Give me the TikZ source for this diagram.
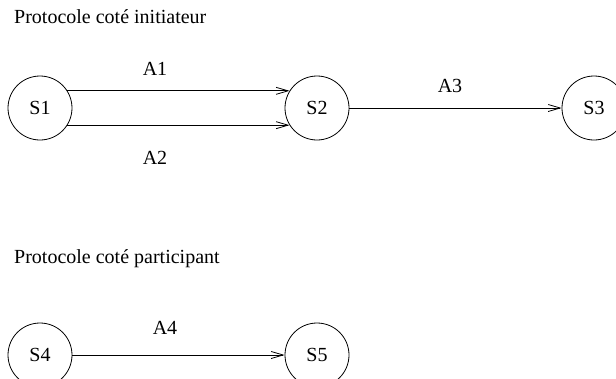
\documentclass[tikz,border=0pt]{standalone}
\usepackage{fontspec}
\setmainfont{Liberation Serif}
\usetikzlibrary{arrows.meta}
\begin{document}
\begin{tikzpicture}[x=1pt,y=-1pt,
  state/.style={draw,circle,minimum size=64pt,inner sep=0pt,line width=0.8pt},
  lbl/.style={inner sep=0pt},
  trans/.style={line width=0.8pt,-{Straight Barb[length=12pt,width=7pt,line width=0.8pt]}},
  font=\fontsize{20}{24}\selectfont]
\useasboundingbox (0,0) rectangle (616,378);
\node[lbl,anchor=west] (t1) at (14,17) {Protocole coté initiateur};
\node[lbl,anchor=west] (t2) at (14,259) {Protocole coté participant};
\node[state] (S1) at (40,108) {S1};
\node[state] (S2) at (317,108) {S2};
\node[state] (S3) at (594,108) {S3};
\node[state] (S4) at (40,355) {S4};
\node[state] (S5) at (317,355) {S5};
\draw[trans] (S1.32) -- (S2.148);
\draw[trans] (S1.-32) -- (S2.-148);
\draw[trans] (S2) -- (S3);
\draw[trans] (S4) -- (S5);
\node[lbl] (A1) at (155,69) {A1};
\node[lbl] (A2) at (155,158) {A2};
\node[lbl] (A3) at (450,86) {A3};
\node[lbl] (A4) at (165,328) {A4};
\end{tikzpicture}
\end{document}
